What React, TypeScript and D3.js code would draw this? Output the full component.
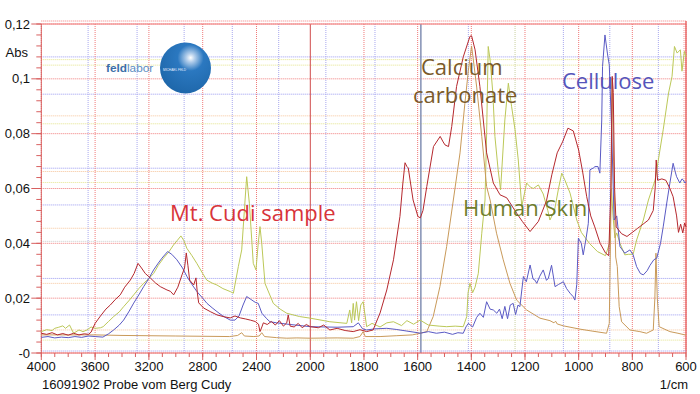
import * as d3 from "d3";

// wavenumber (1/cm), absorbance
const cudi: [number, number][] = [
  [4000, 0.0072], [3960, 0.0068], [3920, 0.0074], [3880, 0.0066], [3840, 0.0071], [3800, 0.0065],
  [3760, 0.0072], [3720, 0.0066], [3680, 0.007], [3650, 0.0068], [3630, 0.0076], [3600, 0.0108],
  [3560, 0.0135], [3520, 0.016], [3487, 0.0175], [3450, 0.0195], [3413, 0.0212], [3380, 0.024],
  [3338, 0.0266], [3310, 0.029], [3281, 0.0327], [3255, 0.031], [3227, 0.029], [3190, 0.0274],
  [3150, 0.0255], [3115, 0.0242], [3066, 0.023], [3040, 0.0225], [3016, 0.0212], [2985, 0.024],
  [2954, 0.0285], [2935, 0.031], [2922, 0.0365], [2910, 0.032], [2897, 0.0266], [2867, 0.0248],
  [2850, 0.0274], [2840, 0.022], [2830, 0.0183], [2793, 0.0164], [2740, 0.015], [2694, 0.0139],
  [2640, 0.0132], [2595, 0.0128], [2560, 0.0135], [2520, 0.0128], [2480, 0.0124], [2446, 0.012],
  [2410, 0.0115], [2385, 0.0105], [2374, 0.0078], [2360, 0.0095], [2349, 0.011], [2320, 0.0104],
  [2290, 0.0115], [2260, 0.0102], [2230, 0.0118], [2200, 0.0098], [2175, 0.011], [2164, 0.0139],
  [2150, 0.0098], [2120, 0.0095], [2090, 0.0108], [2060, 0.0092], [2030, 0.0104], [2000, 0.0096],
  [1970, 0.0092], [1950, 0.0102], [1927, 0.0084], [1900, 0.009], [1870, 0.0082], [1840, 0.0078],
  [1815, 0.0085], [1790, 0.0078], [1766, 0.0084], [1740, 0.0146], [1715, 0.023], [1690, 0.034],
  [1666, 0.0498], [1655, 0.062], [1647, 0.0694], [1640, 0.068], [1635, 0.0675], [1617, 0.0558],
  [1599, 0.0498], [1590, 0.0493], [1580, 0.052], [1566, 0.0607], [1541, 0.0753], [1516, 0.079],
  [1505, 0.077], [1498, 0.0759], [1485, 0.0753], [1473, 0.0826], [1455, 0.0972], [1430, 0.108],
  [1405, 0.1155], [1399, 0.1157], [1386, 0.1106], [1368, 0.0972], [1343, 0.073], [1318, 0.062],
  [1293, 0.0577], [1268, 0.0566], [1231, 0.051], [1210, 0.048], [1181, 0.0443], [1150, 0.048],
  [1120, 0.0555], [1100, 0.065], [1080, 0.073], [1060, 0.077], [1040, 0.082], [1020, 0.081],
  [1000, 0.074], [985, 0.066], [970, 0.057], [955, 0.05], [940, 0.046], [920, 0.04], [900, 0.0365],
  [888, 0.0355], [880, 0.06], [875, 0.1009], [871, 0.095], [866, 0.06], [860, 0.046], [840, 0.0435],
  [820, 0.0425], [800, 0.044], [780, 0.0455], [760, 0.047], [740, 0.0485], [722, 0.052], [715, 0.06],
  [711, 0.0704], [706, 0.063], [690, 0.0635], [675, 0.063], [660, 0.06], [648, 0.057], [635, 0.05],
  [628, 0.044], [620, 0.047], [612, 0.0438], [605, 0.0474], [600, 0.046],
];

const cellulose: [number, number][] = [
  [4000, 0.0057], [3950, 0.006], [3900, 0.0055], [3850, 0.0058], [3800, 0.0056], [3750, 0.006],
  [3700, 0.0057], [3650, 0.0062], [3600, 0.006], [3542, 0.0058], [3500, 0.007], [3462, 0.0084],
  [3420, 0.0102], [3388, 0.012], [3350, 0.015], [3313, 0.0182], [3275, 0.0212], [3239, 0.0242],
  [3200, 0.0272], [3165, 0.0303], [3130, 0.0328], [3103, 0.0346], [3061, 0.037], [3030, 0.036],
  [2992, 0.034], [2950, 0.031], [2917, 0.0279], [2880, 0.025], [2843, 0.0224], [2800, 0.02],
  [2768, 0.0181], [2730, 0.0165], [2694, 0.0151], [2650, 0.0135], [2595, 0.012], [2560, 0.012],
  [2530, 0.0135], [2500, 0.0175], [2473, 0.0206], [2440, 0.0195], [2410, 0.0185], [2387, 0.0181],
  [2360, 0.0145], [2324, 0.0125], [2300, 0.0114], [2250, 0.011], [2150, 0.0104], [2000, 0.0096],
  [1900, 0.0094], [1840, 0.0096], [1821, 0.011], [1805, 0.0088], [1790, 0.0084], [1760, 0.0088],
  [1715, 0.009], [1680, 0.0086], [1640, 0.008], [1600, 0.0074], [1591, 0.0072], [1560, 0.0078],
  [1530, 0.0072], [1500, 0.0076], [1470, 0.0068], [1450, 0.0074], [1430, 0.0072], [1420, 0.0095],
  [1411, 0.0108], [1395, 0.0095], [1380, 0.013], [1368, 0.0145], [1355, 0.013], [1343, 0.0187],
  [1330, 0.016], [1318, 0.0157], [1305, 0.0145], [1295, 0.016], [1285, 0.0125], [1275, 0.017],
  [1265, 0.0125], [1255, 0.0175], [1244, 0.0181], [1235, 0.014], [1226, 0.0175], [1219, 0.0169],
  [1206, 0.0279], [1195, 0.026], [1181, 0.0321], [1170, 0.027], [1163, 0.0266], [1156, 0.0254],
  [1145, 0.028], [1132, 0.0303], [1120, 0.0265], [1113, 0.0272], [1101, 0.032], [1088, 0.0242],
  [1075, 0.025], [1057, 0.026], [1045, 0.0235], [1032, 0.0218], [1020, 0.0205], [1014, 0.0193],
  [1007, 0.025], [1001, 0.0419], [990, 0.04], [983, 0.0358], [972, 0.042], [964, 0.0473],
  [958, 0.0668], [945, 0.0675], [939, 0.068], [928, 0.068], [921, 0.0656], [914, 0.085],
  [911, 0.1045], [902, 0.116], [893, 0.1094], [886, 0.1051], [877, 0.0814], [868, 0.0485],
  [858, 0.05], [846, 0.0388], [828, 0.0364], [809, 0.0376], [797, 0.0358], [784, 0.0315],
  [770, 0.029], [759, 0.0285], [745, 0.03], [734, 0.032], [720, 0.034], [709, 0.0346], [695, 0.04],
  [685, 0.046], [670, 0.0558], [660, 0.062], [648, 0.0692], [640, 0.066], [635, 0.0643],
  [623, 0.062], [615, 0.0635], [610, 0.0631], [604, 0.062], [600, 0.0625],
];

const humanSkin: [number, number][] = [
  [4000, 0.0078], [3960, 0.0085], [3920, 0.0082], [3900, 0.009], [3870, 0.0094], [3840, 0.0099],
  [3820, 0.009], [3790, 0.0102], [3760, 0.0072], [3720, 0.0084], [3690, 0.0078], [3660, 0.0084],
  [3630, 0.0095], [3600, 0.009], [3560, 0.0092], [3540, 0.0096], [3500, 0.0115], [3462, 0.0133],
  [3420, 0.015], [3388, 0.0169], [3350, 0.019], [3313, 0.0212], [3275, 0.0235], [3239, 0.0254],
  [3200, 0.0272], [3165, 0.029], [3130, 0.032], [3091, 0.0346], [3050, 0.037], [3017, 0.0394],
  [2990, 0.041], [2962, 0.0427], [2940, 0.041], [2918, 0.0382], [2880, 0.0355], [2844, 0.0327],
  [2800, 0.029], [2770, 0.0266], [2730, 0.0255], [2694, 0.0248], [2650, 0.0235], [2595, 0.0224],
  [2572, 0.0218], [2535, 0.0315], [2510, 0.0376], [2485, 0.0558], [2473, 0.0643], [2453, 0.0546],
  [2424, 0.0327], [2404, 0.0303], [2387, 0.04], [2374, 0.0461], [2361, 0.04], [2337, 0.0254],
  [2275, 0.0181], [2224, 0.016], [2175, 0.0145], [2080, 0.0133], [2000, 0.0127], [1927, 0.0114],
  [1864, 0.0108], [1853, 0.0157], [1846, 0.011], [1840, 0.0181], [1835, 0.012], [1828, 0.0187],
  [1820, 0.0118], [1812, 0.0175], [1803, 0.0187], [1790, 0.0096], [1770, 0.0108], [1740, 0.0095],
  [1715, 0.011], [1690, 0.0114], [1660, 0.01], [1640, 0.0118], [1615, 0.0105], [1591, 0.012],
  [1560, 0.0102], [1520, 0.0098], [1492, 0.0096], [1460, 0.0098], [1430, 0.0096], [1417, 0.0133],
  [1412, 0.022], [1405, 0.0254], [1395, 0.022], [1386, 0.024], [1374, 0.029], [1361, 0.0437],
  [1349, 0.0558], [1343, 0.08], [1337, 0.1118], [1330, 0.107], [1320, 0.095], [1312, 0.079],
  [1300, 0.0668], [1291, 0.0595], [1275, 0.085], [1262, 0.0984], [1250, 0.09], [1237, 0.0814],
  [1225, 0.0704], [1212, 0.0534], [1194, 0.062], [1180, 0.0605], [1169, 0.06], [1150, 0.0613],
  [1132, 0.058], [1115, 0.052], [1107, 0.0485], [1090, 0.052], [1075, 0.06], [1063, 0.0656],
  [1051, 0.063], [1032, 0.0583], [1007, 0.0485], [990, 0.044], [960, 0.04], [930, 0.037],
  [900, 0.0355], [885, 0.04], [878, 0.06], [872, 0.05], [865, 0.042], [858, 0.0438], [846, 0.04],
  [828, 0.0358], [815, 0.036], [797, 0.036], [784, 0.0412], [759, 0.0485], [740, 0.0558],
  [715, 0.0631], [685, 0.0814], [665, 0.0948], [652, 0.1009], [643, 0.1118], [633, 0.1094],
  [621, 0.1106], [615, 0.1028], [606, 0.11], [600, 0.108],
];

const calciumCarbonate: [number, number][] = [
  [4000, 0.0066], [3800, 0.0066], [3600, 0.0066], [3400, 0.0064], [3200, 0.0063], [3000, 0.0062],
  [2800, 0.0061], [2600, 0.006], [2540, 0.0064], [2510, 0.0074], [2490, 0.0062], [2420, 0.006],
  [2380, 0.0062], [2361, 0.0074], [2340, 0.006], [2250, 0.0056], [2175, 0.0054], [2100, 0.0055],
  [2000, 0.0054], [1900, 0.0055], [1840, 0.0054], [1815, 0.006], [1803, 0.0078], [1795, 0.006],
  [1740, 0.006], [1680, 0.0063], [1620, 0.0066], [1591, 0.0072], [1566, 0.0078], [1542, 0.0133],
  [1517, 0.0242], [1492, 0.0388], [1467, 0.0558], [1442, 0.073], [1424, 0.091], [1411, 0.103],
  [1399, 0.112], [1390, 0.105], [1380, 0.097], [1361, 0.079], [1343, 0.0607], [1330, 0.0558],
  [1306, 0.0437], [1281, 0.034], [1256, 0.0254], [1231, 0.0193], [1194, 0.0157], [1144, 0.0127],
  [1107, 0.0118], [1092, 0.011], [1086, 0.0116], [1080, 0.0106], [1057, 0.0099], [995, 0.0087],
  [950, 0.008], [896, 0.0072], [886, 0.0108], [880, 0.05], [875, 0.1], [870, 0.07], [862, 0.035],
  [856, 0.0315], [849, 0.0169], [840, 0.0114], [809, 0.0084], [772, 0.0078], [747, 0.0072],
  [722, 0.0084], [716, 0.02], [712, 0.0364], [707, 0.02], [700, 0.0096], [660, 0.0078],
  [630, 0.0072], [604, 0.0066], [600, 0.0066],
];

const xMajor = [4000, 3600, 3200, 2800, 2400, 2000, 1800, 1600, 1400, 1200, 1000, 800, 600];
const yMajor = [0, 0.02, 0.04, 0.06, 0.08, 0.1, 0.12];
const yLabels = ["-0", "0,02", "0,04", "0,06", "0,08", "0,1", "0,12"];

// peak marker lines of the spectra software
const vMarksBlue = [3652, 3288, 2938, 2580, 2235, 1942, 1759, 1411, 1057, 884, 703];
const vMarkGreen = [1237];
const hMarksBlue = [0.108, 0.0944, 0.0674, 0.054, 0.0272, 0.0139];
const hMarksYellow = [0.107, 0.105, 0.0836, 0.0622, 0.0047];
const hMarksOrange = [0.0865, 0.0662, 0.0455, 0.0254, 0.0084];

const W = 700;
const H = 394;

export default function App() {
  const x = d3.scaleLinear().domain([4000, 2000, 600]).range([41.3, 310.3, 686]);
  const y = d3.scaleLinear().domain([0, 0.12]).range([353, 24]);
  const line = d3.line<[number, number]>().x(d => x(d[0])).y(d => y(d[1]));

  const xMinor = [...d3.range(4000, 2000, -100), ...d3.range(2000, 599, -50)];
  const yMinor = d3.range(0, 0.1201, 0.004);
  const left = x(4000), right = x(600);
  const top = y(0.12), bottom = y(0);

  const hline = (v: number, color: string, key: string) => (
    <line key={key} x1={left} x2={right} y1={y(v)} y2={y(v)} stroke={color} strokeWidth={1} strokeDasharray="1 1" />
  );
  const vline = (v: number, color: string, key: string) => (
    <line key={key} x1={x(v)} x2={x(v)} y1={top} y2={bottom} stroke={color} strokeWidth={1} strokeDasharray="1 1" />
  );

  return (
    <svg width={W} height={H} style={{ position: "absolute", left: 0, top: 0, background: "#fff" }}
      fontFamily="'Liberation Sans', Arial, sans-serif">
      <defs>
        <radialGradient id="ball" cx="0.6" cy="0.3" r="0.8">
          <stop offset="0" stopColor="#ffffff" />
          <stop offset="0.1" stopColor="#b6d0ec" />
          <stop offset="0.32" stopColor="#2b78c0" />
          <stop offset="1" stopColor="#1c64a6" />
        </radialGradient>
      </defs>

      {/* marker grid */}
      {hMarksYellow.map((v, i) => hline(v, "#e4e48a", "hy" + i))}
      {hMarksOrange.map((v, i) => hline(v, "#f6c49a", "ho" + i))}
      {hMarksBlue.map((v, i) => hline(v, "#9a9af0", "hb" + i))}
      {vMarksBlue.map((v, i) => vline(v, "#a8a8ee", "vb" + i))}
      {vMarkGreen.map((v, i) => vline(v, "#c8d0a0", "vg" + i))}

      {/* main grid */}
      {yMajor.map((v, i) => hline(v, "#f07a7a", "gy" + i))}
      <line x1={left} x2={right} y1={y(0.04) - 2} y2={y(0.04) - 2} stroke="#c8c8c8" strokeDasharray="1 1" />
      {xMajor.filter(v => v !== 2000).map((v, i) => vline(v, "#f07a7a", "gx" + i))}
      <line x1={x(2000)} x2={x(2000)} y1={top} y2={bottom} stroke="#d04a4a" strokeWidth={1} />
      <line x1={x(1588)} x2={x(1588)} y1={top} y2={bottom} stroke="#8a96b8" strokeWidth={1.6} />

      {/* frame */}
      <line x1={left} x2={right} y1={top - 3} y2={top - 3} stroke="#f07a7a" strokeDasharray="1 1" />
      <line x1={left} x2={right} y1={top} y2={top} stroke="#f07a7a" />
      <line x1={right} x2={right} y1={top - 3} y2={bottom} stroke="#e86a6a" strokeWidth={1.5} />
      <line x1={right - 2} x2={right - 2} y1={top} y2={bottom} stroke="#f3a0a0" strokeDasharray="1 1" />
      <line x1={left} x2={right} y1={bottom - 2} y2={bottom - 2} stroke="#9a9af0" strokeDasharray="1 1" />
      <line x1={left} x2={right} y1={bottom} y2={bottom} stroke="#e86a6a" />
      <line x1={left} x2={left} y1={top} y2={bottom} stroke="#d86060" />

      {/* logo */}
      <text x={106} y={72} fontSize={11.8} fontFamily="'Liberation Sans', Arial, sans-serif">
        <tspan fill="#3b6fa8" fontWeight="bold">feld</tspan>
        <tspan fill="#5b8cc2">labor</tspan>
      </text>
      <circle cx={185.5} cy={68} r={25.5} fill="url(#ball)" />
      <text x={163} y={70.5} fontSize={3.2} fill="#e8f0ff">MICHAEL FELD</text>

      {/* spectra */}
      <path d={line(humanSkin) ?? ""} fill="none" stroke="#bcc858" strokeWidth={1} />
      <path d={line(calciumCarbonate) ?? ""} fill="none" stroke="#c99a5a" strokeWidth={1} />
      <path d={line(cellulose) ?? ""} fill="none" stroke="#5a5ac4" strokeWidth={1} />
      <path d={line(cudi) ?? ""} fill="none" stroke="#b5282e" strokeWidth={1} />

      {/* annotations */}
      <g fontFamily="'Open Sans', 'Noto Sans', sans-serif" fontSize={22}>
        <text x={170} y={221} fill="#d8343a">Mt. Cudi sample</text>
        <text x={421} y={75} fill="#7a5a2a">Calcium</text>
        <text x={413} y={103} fill="#7a5a2a">carbonate</text>
        <text x={562} y={89} fill="#5555bb">Cellulose</text>
        <text x={463} y={216} fill="#6e7d2c">Human Skin</text>
      </g>

      {/* y axis */}
      {yMinor.map((v, i) => (
        <line key={"ym" + i} x1={left - 5} x2={left} y1={y(v)} y2={y(v)} stroke="#d86060" />
      ))}
      {yMajor.map((v, i) => (
        <g key={"yt" + i}>
          <line x1={left - 10} x2={left} y1={y(v)} y2={y(v)} stroke="#d86060" />
          <text x={30} y={y(v) + 4.5} fontSize={13} textAnchor="end" fill="#111">{yLabels[i]}</text>
        </g>
      ))}
      <text x={28} y={57} fontSize={13} textAnchor="end" fill="#111">Abs</text>

      {/* x axis */}
      {xMinor.map((v, i) => (
        <line key={"xm" + i} x1={x(v)} x2={x(v)} y1={bottom} y2={bottom + 4} stroke="#d86060" />
      ))}
      {xMajor.map((v, i) => (
        <g key={"xt" + i}>
          <line x1={x(v)} x2={x(v)} y1={bottom} y2={bottom + 7} stroke="#d86060" />
          <text x={x(v)} y={371} fontSize={13} textAnchor="middle" fill="#111">{v}</text>
        </g>
      ))}
      <text x={42} y={389} fontSize={13} fill="#111">16091902 Probe vom Berg Cudy</text>
      <text x={688} y={389} fontSize={13} textAnchor="end" fill="#111">1/cm</text>
    </svg>
  );
}
